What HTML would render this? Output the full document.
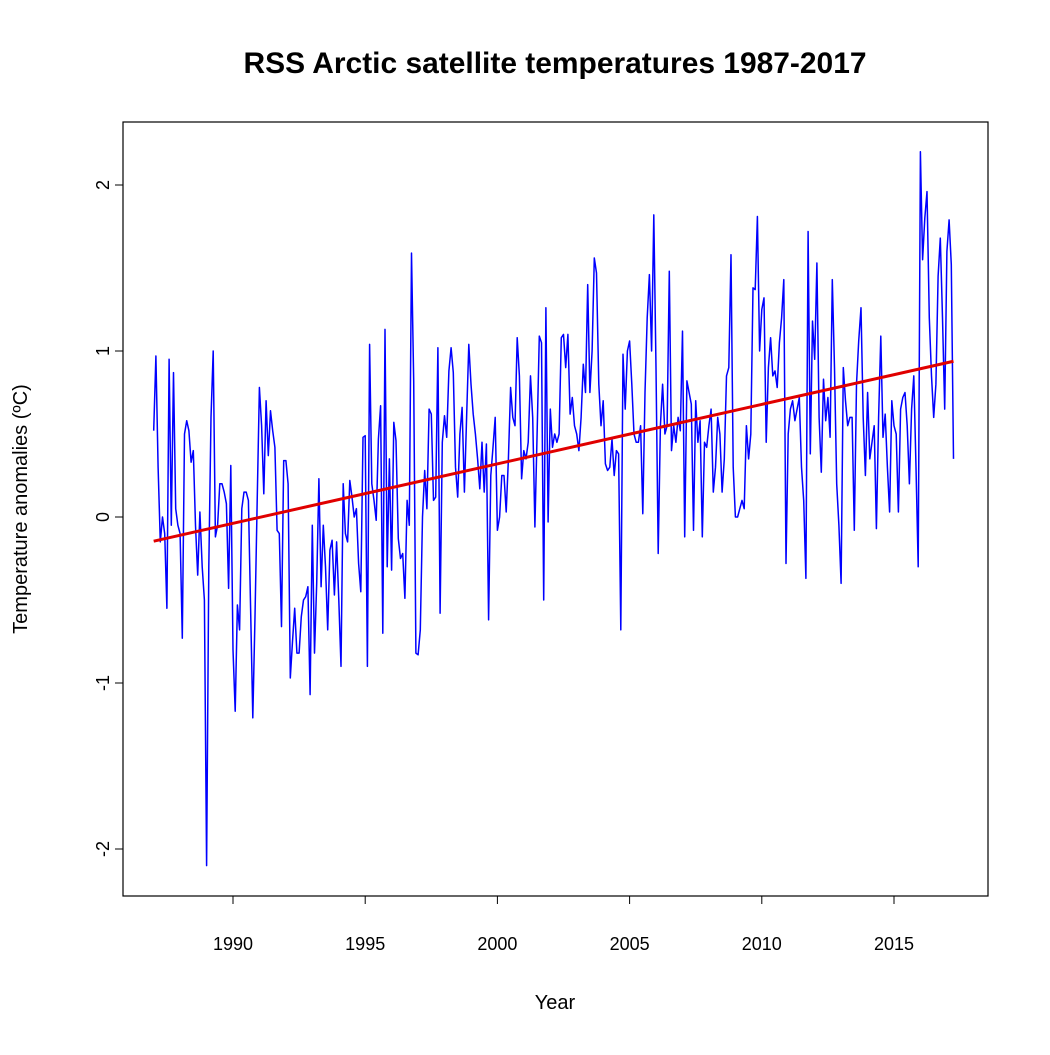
<!DOCTYPE html>
<html><head><meta charset="utf-8"><style>
body{margin:0;background:#fff}
svg text{font-family:"Liberation Sans",Arial,sans-serif;fill:#000}
</style></head><body>
<svg id="chart" width="1050" height="1050" viewBox="0 0 1050 1050" xmlns="http://www.w3.org/2000/svg">
<rect width="1050" height="1050" fill="#fff"/>
<text x="555" y="73" font-size="29.5" font-weight="bold" text-anchor="middle" textLength="623" lengthAdjust="spacingAndGlyphs">RSS Arctic satellite temperatures 1987-2017</text>
<rect x="123" y="122" width="865" height="774" fill="none" stroke="#000" stroke-width="1.2"/>
<text x="555" y="1009" font-size="20" text-anchor="middle">Year</text>
<text transform="translate(27,509) rotate(-90)" font-size="20" text-anchor="middle">Temperature anomalies (ºC)</text>
<g id="axes"></g>
<g id="marks"></g>
</svg>
<script>
const startYear = 1987;
const xTicks = [1990, 1995, 2000, 2005, 2010, 2015];
const yTicks = [-2, -1, 0, 1, 2];
const anomalies = [
0.52,0.97,0.3,-0.15,0.0,-0.1,-0.55,0.95,-0.05,0.87,0.05,-0.05,
-0.1,-0.73,0.5,0.58,0.52,0.33,0.4,-0.05,-0.35,0.03,-0.3,-0.5,
-2.1,-0.3,0.6,1.0,-0.12,-0.05,0.2,0.2,0.15,0.08,-0.43,0.31,
-0.8,-1.17,-0.53,-0.68,0.05,0.15,0.15,0.1,-0.55,-1.21,-0.6,0.1,
0.78,0.55,0.14,0.7,0.37,0.64,0.52,0.42,-0.08,-0.1,-0.66,0.34,
0.34,0.2,-0.97,-0.75,-0.55,-0.82,-0.82,-0.6,-0.5,-0.48,-0.42,-1.07,
-0.05,-0.82,-0.4,0.23,-0.42,-0.05,-0.3,-0.68,-0.2,-0.14,-0.47,-0.15,
-0.5,-0.9,0.2,-0.1,-0.15,0.22,0.12,0.0,0.05,-0.28,-0.45,0.48,
0.49,-0.9,1.04,0.2,0.1,-0.02,0.47,0.67,-0.7,1.13,-0.3,0.35,
-0.32,0.57,0.46,-0.13,-0.25,-0.22,-0.49,0.1,-0.05,1.59,0.82,-0.82,
-0.83,-0.68,0.0,0.28,0.05,0.65,0.62,0.1,0.12,1.02,-0.58,0.45,
0.61,0.48,0.88,1.02,0.87,0.3,0.12,0.5,0.66,0.15,0.6,1.04,
0.8,0.62,0.5,0.35,0.17,0.45,0.15,0.44,-0.62,0.25,0.42,0.6,
-0.08,0.0,0.25,0.25,0.03,0.35,0.78,0.6,0.55,1.08,0.85,0.23,
0.4,0.35,0.45,0.85,0.6,-0.06,0.5,1.09,1.05,-0.5,1.26,-0.03,
0.65,0.42,0.5,0.45,0.5,1.08,1.1,0.9,1.1,0.62,0.72,0.55,
0.5,0.4,0.6,0.92,0.75,1.4,0.75,1.0,1.56,1.47,0.8,0.55,
0.7,0.32,0.28,0.3,0.47,0.25,0.4,0.38,-0.68,0.98,0.65,1.0,
1.06,0.8,0.5,0.45,0.45,0.55,0.02,0.75,1.2,1.46,1.0,1.82,
0.9,-0.22,0.55,0.8,0.5,0.55,1.48,0.4,0.55,0.45,0.6,0.52,
1.12,-0.12,0.82,0.75,0.68,-0.08,0.7,0.45,0.58,-0.12,0.45,0.42,
0.55,0.65,0.15,0.3,0.6,0.5,0.15,0.35,0.85,0.9,1.58,0.3,
0.0,0.0,0.05,0.1,0.05,0.55,0.35,0.5,1.38,1.37,1.81,1.0,
1.25,1.32,0.45,0.9,1.08,0.85,0.88,0.78,1.05,1.2,1.43,-0.28,
0.5,0.65,0.7,0.58,0.65,0.72,0.3,0.1,-0.37,1.72,0.38,1.18,
0.95,1.53,0.6,0.27,0.83,0.58,0.72,0.48,1.43,0.9,0.2,-0.05,
-0.4,0.9,0.7,0.55,0.6,0.6,-0.08,0.8,1.06,1.26,0.6,0.25,
0.75,0.35,0.45,0.55,-0.07,0.6,1.09,0.48,0.62,0.3,0.03,0.7,
0.55,0.5,0.03,0.65,0.72,0.75,0.55,0.2,0.65,0.85,0.3,-0.3,
2.2,1.55,1.8,1.96,1.2,0.85,0.6,0.8,1.45,1.68,1.2,0.65,
1.6,1.79,1.52,0.35
];

const NS = "http://www.w3.org/2000/svg";
function xScale(yr){ return 233 + (yr - 1990) * (894 - 233) / 25; }
function yScale(v){ return 517 - v * 166; }
function mk(tag, attrs, parent){
  const e = document.createElementNS(NS, tag);
  for (const k in attrs) e.setAttribute(k, attrs[k]);
  parent.appendChild(e); return e;
}
const axes = document.getElementById('axes');
const marks = document.getElementById('marks');

const xa = mk('line', {x1: xScale(xTicks[0]), x2: xScale(xTicks[xTicks.length-1]), y1: 896, y2: 896, stroke: '#000'}, axes);


xTicks.forEach(t => {
  const tk = mk('line', {x1: xScale(t), x2: xScale(t), y1: 896, y2: 904, stroke: '#000'}, axes);
  
  
  const lb = mk('text', {x: xScale(t), y: 950, 'font-size': 18, 'text-anchor': 'middle'}, axes);
  lb.textContent = t;
  
  
});
const ya = mk('line', {x1: 123, x2: 123, y1: yScale(yTicks[0]), y2: yScale(yTicks[yTicks.length-1]), stroke: '#000'}, axes);


yTicks.forEach(t => {
  const tk = mk('line', {x1: 115, x2: 123, y1: yScale(t), y2: yScale(t), stroke: '#000'}, axes);
  
  
  const lb = mk('text', {transform: `translate(109,${yScale(t)}) rotate(-90)`, 'font-size': 18, 'text-anchor': 'middle'}, axes);
  lb.textContent = t;
  
  
});

const pts = anomalies.map((v, i) => [startYear + i / 12, v]);
const line = mk('polyline', {points: pts.map(p => xScale(p[0]).toFixed(1) + ',' + yScale(p[1]).toFixed(1)).join(' '), fill: 'none', stroke: '#0000ff', 'stroke-width': 1.5, 'stroke-linejoin': 'round'}, marks);



const n = pts.length;
const mx = pts.reduce((s, p) => s + p[0], 0) / n;
const my = pts.reduce((s, p) => s + p[1], 0) / n;
let sxy = 0, sxx = 0;
pts.forEach(p => { sxy += (p[0] - mx) * (p[1] - my); sxx += (p[0] - mx) ** 2; });
const slope = sxy / sxx, icpt = my - slope * mx;
const x0 = pts[0][0], x1 = pts[n-1][0];
const tr = mk('line', {x1: xScale(x0), y1: yScale(icpt + slope * x0), x2: xScale(x1), y2: yScale(icpt + slope * x1), stroke: '#e00000', 'stroke-width': 3}, marks);


</script>
</body></html>
